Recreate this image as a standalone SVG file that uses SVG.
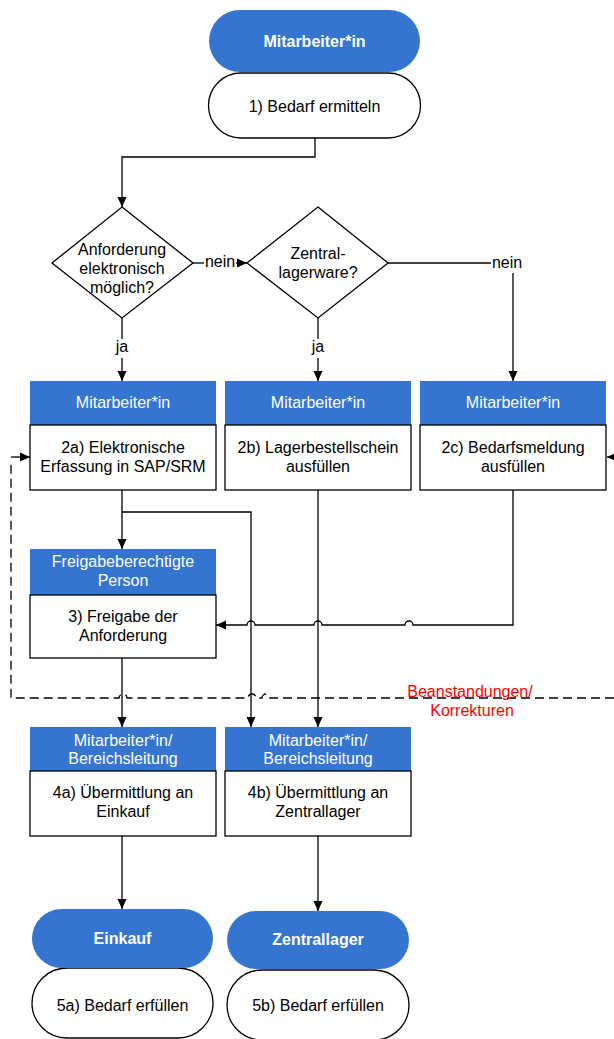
<svg xmlns="http://www.w3.org/2000/svg" width="614" height="1039" viewBox="0 0 614 1039">
<defs>
<marker id="ah" markerUnits="userSpaceOnUse" markerWidth="10" markerHeight="10" refX="10" refY="5" orient="auto" viewBox="0 0 10 10">
<path d="M0,0.5 L10,5 L0,9.5 z" fill="#000"/>
</marker>
<style>
text{font-family:"Liberation Sans",Arial,sans-serif;font-size:16px;text-anchor:middle;fill:#000}
.hdr{fill:#3575CF}
.body{fill:#fff;stroke:#000;stroke-width:1.3}
.w{fill:#fff}
.b{font-weight:bold;fill:#fff}
.red{fill:#ff0000}
.ln{fill:none;stroke:#000;stroke-width:1.3}
.arr{marker-end:url(#ah)}
.dash{fill:none;stroke:#000;stroke-width:1.3;stroke-dasharray:9,5}
</style>
</defs>
<rect width="614" height="1039" fill="#fff"/>

<g id="connectors">
<path class="ln arr" d="M315,138 V157 H122 V207"/>
<path class="ln" d="M193,263 H204"/>
<path class="ln arr" d="M236,263 H247"/>
<path class="ln" d="M388,263 H491"/>
<path class="ln arr" d="M513,273 V381"/>
<path class="ln" d="M122,318 V339"/>
<path class="ln arr" d="M122,358 V381"/>
<path class="ln" d="M318,318 V339"/>
<path class="ln arr" d="M318,358 V381"/>
<path class="ln arr" d="M122,490 V549"/>
<path class="ln arr" d="M122,512 H251 V727"/>
<path class="ln arr" d="M318,490 V727"/>
<path class="ln arr" d="M513,490 V625 H413 A4,4 0 0 0 405,625 H322 A4,4 0 0 0 314,625 H255 A4,4 0 0 0 247,625 H216"/>
<path class="ln arr" d="M122,658 V727"/>
<path class="ln arr" d="M122,836 V909"/>
<path class="ln arr" d="M318,836 V911"/>
<path class="dash" d="M614,698 H270 A4,4 0 0 0 262,698 H256 A4,4 0 0 0 248,698 H127 A4,4 0 0 0 119,698 H11 V460"/>
<path class="ln arr" d="M11,457 H30"/>
<path class="ln arr" d="M614,457 H607"/>
<text x="220" y="267">nein</text>
<text x="507" y="268">nein</text>
<text x="122" y="352">ja</text>
<text x="318" y="352">ja</text>
<text class="red" x="470" y="697">Beanstandungen/</text>
<text class="red" x="472" y="716">Korrekturen</text>
</g>

<g id="start">
<rect class="body" x="208.5" y="73" width="212" height="65" rx="32.5"/>
<rect class="hdr" x="209" y="10" width="211" height="62" rx="31"/>
<text class="b" x="314.5" y="47">Mitarbeiter*in</text>
<text x="314.5" y="112">1) Bedarf ermitteln</text>
</g>

<g id="d1">
<polygon class="body" points="122,207 193,263 122,318 52,263"/>
<text x="122" y="255">Anforderung</text>
<text x="122" y="274">elektronisch</text>
<text x="122" y="293">möglich?</text>
</g>

<g id="d2">
<polygon class="body" points="318,207 388,263 318,318 247,263"/>
<text x="318" y="259">Zentral-</text>
<text x="318" y="278">lagerware?</text>
</g>

<g id="n2a">
<rect class="hdr" x="30" y="381" width="186" height="44"/>
<rect class="body" x="30" y="425" width="186" height="65"/>
<text class="w" x="123" y="408">Mitarbeiter*in</text>
<text x="123" y="453">2a) Elektronische</text>
<text x="123" y="472">Erfassung in SAP/SRM</text>
</g>

<g id="n2b">
<rect class="hdr" x="225" y="381" width="186" height="44"/>
<rect class="body" x="225" y="425" width="186" height="65"/>
<text class="w" x="318" y="408">Mitarbeiter*in</text>
<text x="318" y="453">2b) Lagerbestellschein</text>
<text x="318" y="472">ausfüllen</text>
</g>

<g id="n2c">
<rect class="hdr" x="420" y="381" width="186" height="44"/>
<rect class="body" x="420" y="425" width="186" height="65"/>
<text class="w" x="513" y="408">Mitarbeiter*in</text>
<text x="513" y="453">2c) Bedarfsmeldung</text>
<text x="513" y="472">ausfüllen</text>
</g>

<g id="n3">
<rect class="hdr" x="30" y="549" width="186" height="46"/>
<rect class="body" x="30" y="595" width="186" height="63"/>
<text class="w" x="123" y="567">Freigabeberechtigte</text>
<text class="w" x="123" y="586">Person</text>
<text x="123" y="622">3) Freigabe der</text>
<text x="123" y="641">Anforderung</text>
</g>

<g id="n4a">
<rect class="hdr" x="30" y="727" width="186" height="44"/>
<rect class="body" x="30" y="771" width="186" height="65"/>
<text class="w" x="123" y="746">Mitarbeiter*in/</text>
<text class="w" x="123" y="764">Bereichsleitung</text>
<text x="123" y="798">4a) Übermittlung an</text>
<text x="123" y="817">Einkauf</text>
</g>

<g id="n4b">
<rect class="hdr" x="225" y="727" width="186" height="44"/>
<rect class="body" x="225" y="771" width="186" height="65"/>
<text class="w" x="318" y="746">Mitarbeiter*in/</text>
<text class="w" x="318" y="764">Bereichsleitung</text>
<text x="318" y="798">4b) Übermittlung an</text>
<text x="318" y="817">Zentrallager</text>
</g>

<g id="n5a">
<rect class="body" x="32" y="968" width="181" height="70" rx="35"/>
<rect class="hdr" x="32" y="909" width="181" height="59" rx="29.5"/>
<text class="b" x="122.5" y="944">Einkauf</text>
<text x="122.5" y="1011">5a) Bedarf erfüllen</text>
</g>

<g id="n5b">
<rect class="body" x="227" y="970" width="182" height="70" rx="35"/>
<rect class="hdr" x="227" y="911" width="182" height="58" rx="29"/>
<text class="b" x="318" y="945">Zentrallager</text>
<text x="318" y="1011">5b) Bedarf erfüllen</text>
</g>
</svg>
